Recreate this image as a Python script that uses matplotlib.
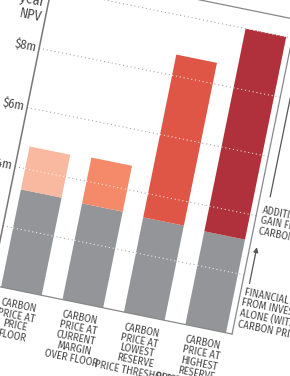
import numpy as np
import matplotlib
matplotlib.use("Agg")
import matplotlib.pyplot as plt
from matplotlib.transforms import Affine2D

# data ($m, 10-year NPV)
categories = ["CARBON\nPRICE AT\nPRICE\nFLOOR",
              "CARBON\nPRICE AT\nCURRENT\nMARGIN\nOVER FLOOR",
              "CARBON\nPRICE AT\nLOWEST\nRESERVE\nPRICE THRESHOLD",
              "CARBON\nPRICE AT\nHIGHEST\nRESERVE\nPRICE THRESHOLD"]
investment_gain = [3.3, 3.25, 3.2, 3.15]
total_gain = [4.75, 4.8, 8.7, 10.0]
carbon_gain = [t - b for t, b in zip(total_gain, investment_gain)]
grid_vals = [2, 4, 6, 8, 10]
tick_labels = ["$2m", "$4m", "$6m", "$8m", "$10m"]

top_colors = ["#f9b9a0", "#f58a6a", "#e05646", "#b0313b"]
grey = "#939598"
txt = "#4a4a4a"
font = ["Fira Sans Condensed", "DejaVu Sans"]

# whole chart is tilted clockwise
tilt = 11.5
theta = np.deg2rad(tilt)
c, s = np.cos(theta), np.sin(theta)
ox, oy = -9, 285          # axis/baseline corner in pixels
px_per_cat, px_per_m, first_u = 62.7, 30.2, 31
rot = Affine2D(np.array([[c, s, ox], [s, -c, oy], [0, 0, 1]]))

fig = plt.figure(figsize=(2.9, 3.76), dpi=100)
ax = fig.add_axes([0, 0, 1, 1])
chart = Affine2D().scale(px_per_cat, px_per_m).translate(first_u, 0) + rot + ax.transData
pix = rot + ax.transData   # chart pixel units (u right, v up)

x = np.arange(len(categories))
w = 41.5 / px_per_cat
x_left, x_right = -first_u / px_per_cat, (246 - first_u) / px_per_cat

# grey dotted grid behind bars
ax.hlines(grid_vals, x_left, x_right, colors="#aaaaaa", lw=0.8,
          linestyles=(0, (1, 2.5)), transform=chart, zorder=1)

ax.bar(x, investment_gain, w, color=grey, transform=chart, zorder=2)
ax.bar(x, carbon_gain, w, bottom=investment_gain, color=top_colors,
       transform=chart, zorder=2)

# white dots where the grid crosses a bar
for xi, t in zip(x, total_gain):
    g = [v for v in grid_vals if v <= t]
    ax.hlines(g, xi - w / 2, xi + w / 2, colors="white", lw=0.8, alpha=0.8,
              linestyles=(0, (1, 2.5)), transform=chart, zorder=3)

# frame
ax.plot([0, 0], [0, 330], color="#777777", lw=1.1, transform=pix, zorder=4)
ax.plot([0, 246], [0, 0], color="#888888", lw=0.9, transform=pix, zorder=4)
ax.plot([246, 246], [0, 321], color="#888888", lw=0.9, transform=pix, zorder=4)
ax.plot([0, 246], [321, 321], color="#888888", lw=0.9, transform=pix, zorder=4)

for v, lab in zip(grid_vals, tick_labels):
    ax.text(-3, v * px_per_m, lab, transform=pix, rotation=-tilt,
            rotation_mode="anchor", ha="right", va="center",
            fontsize=9, color=txt, family=font)
ax.text(-4, 269, "10-year\nNPV", transform=pix, rotation=-tilt,
        rotation_mode="anchor", ha="right", va="baseline", linespacing=1.05,
        fontsize=10, color=txt, family=font)

for xi, lab in zip(x, categories):
    u = first_u + xi * px_per_cat
    ax.text(u, -9, lab, transform=pix, rotation=-tilt, rotation_mode="anchor",
            ha="center", va="top", linespacing=0.98, fontsize=7.8,
            color=txt, family=font)

# legend arrows
ax.annotate("", xy=(256, 300), xytext=(256, 142), xycoords=pix, textcoords=pix,
            arrowprops=dict(arrowstyle="-|>", color="#555555", lw=0.9,
                            mutation_scale=7, shrinkA=0, shrinkB=0))
ax.annotate("", xy=(253, 90), xytext=(253, 53), xycoords=pix, textcoords=pix,
            arrowprops=dict(arrowstyle="-|>", color="#555555", lw=0.9,
                            mutation_scale=7, shrinkA=0, shrinkB=0))
ax.text(251, 133, "ADDITIONAL\nGAIN FROM\nCARBON PRICE", transform=pix,
        rotation=-tilt, rotation_mode="anchor", ha="left", va="top",
        linespacing=0.98, fontsize=7.8, color=txt, family=font)
ax.text(249.5, 49, "FINANCIAL GAIN\nFROM INVESTMENT\nALONE (WITHOUT\nCARBON PRICE)",
        transform=pix, rotation=-tilt, rotation_mode="anchor", ha="left",
        va="top", linespacing=0.98, fontsize=7.8, color=txt, family=font)

ax.set_xlim(0, 290)
ax.set_ylim(376, 0)
ax.axis("off")
fig.savefig("out.png", dpi=100)
